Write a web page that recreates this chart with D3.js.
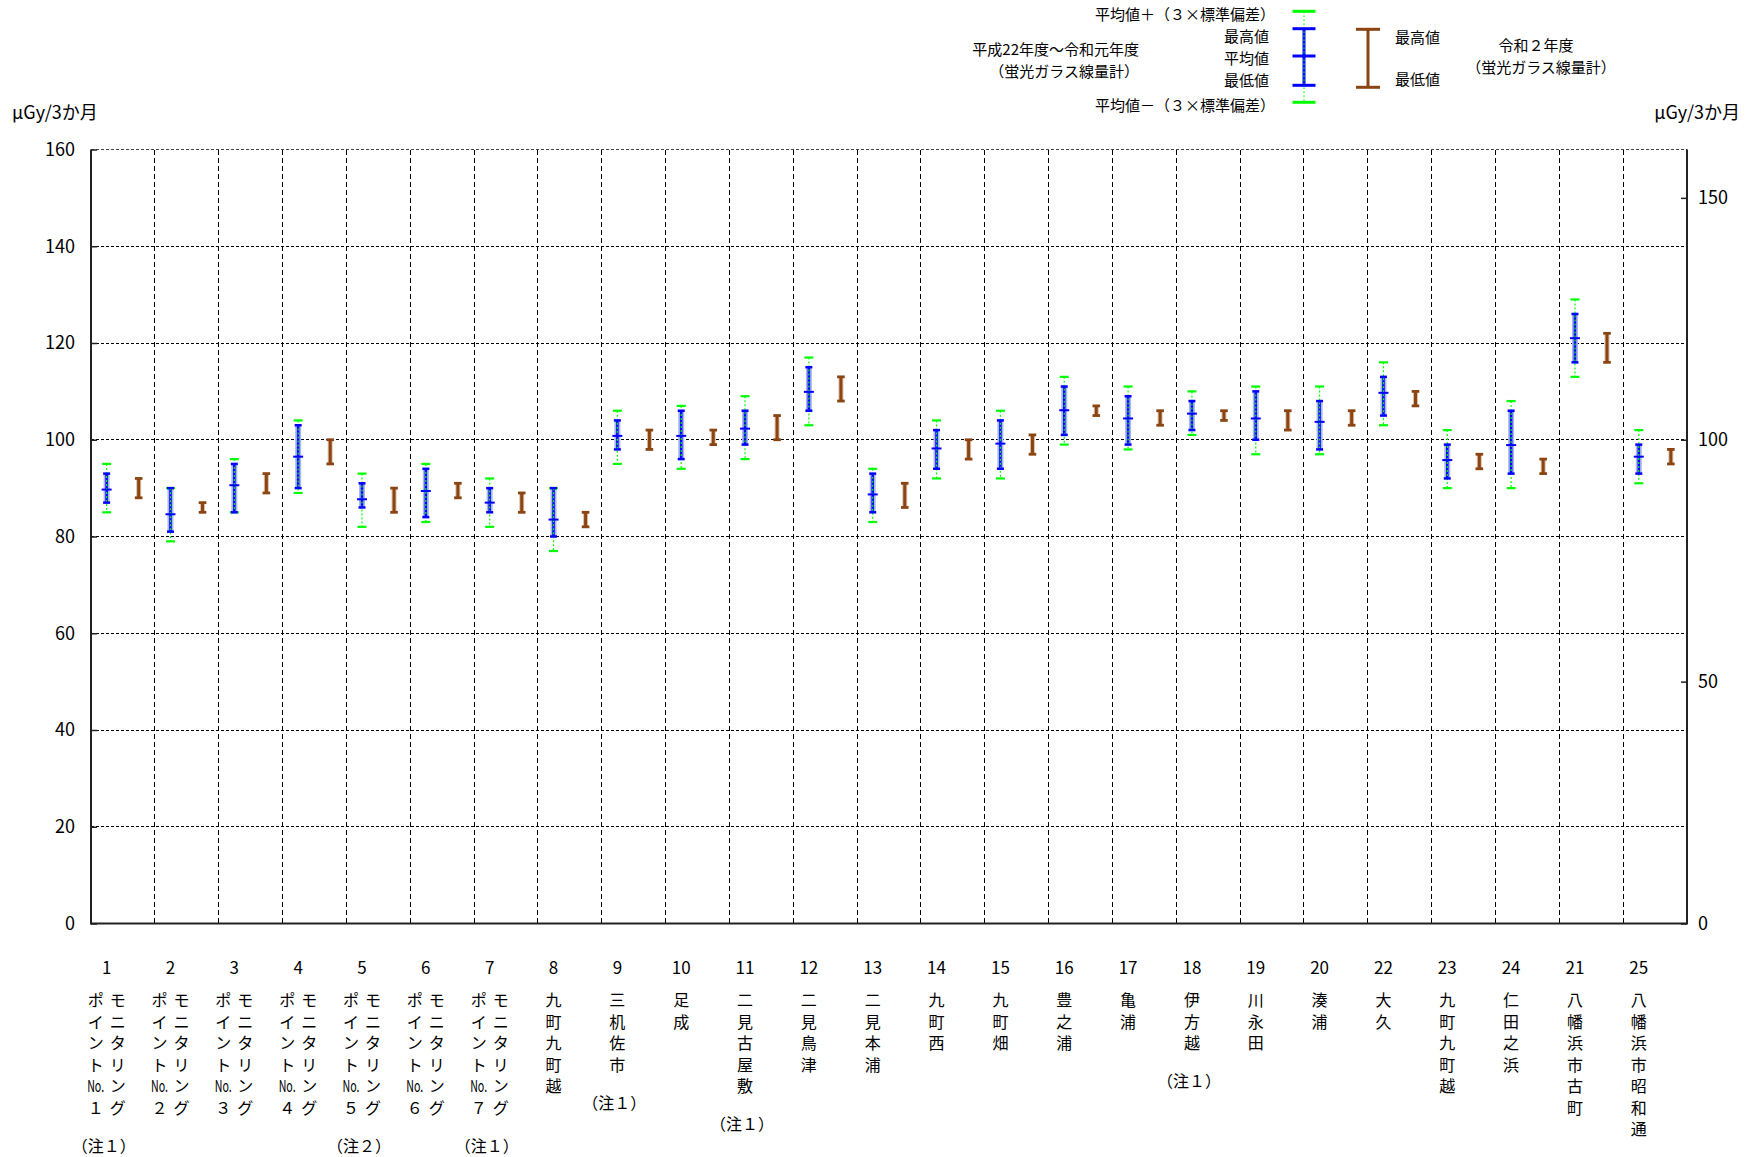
<!DOCTYPE html>
<html lang="ja">
<head>
<meta charset="utf-8">
<title>空間線量率（積算線量）</title>
<script src="https://cdn.jsdelivr.net/npm/d3@7"></script>
<style>
  html, body { margin: 0; padding: 0; background: #fff; }
  svg { display: block; font-family: "Noto Sans CJK JP", "Noto Sans", sans-serif; }
</style>
</head>
<body>
<svg id="chart" width="1751" height="1157"></svg>
<script>
// 地点番号（横軸の並び順）
const siteNumbers = ["1","2","3","4","5","6","7","8","9","10","11","12","13","14","15","16","17","18","19","20","22","23","24","21","25"];

// 地点名（縦書き。右の列から順に）
const siteNames = [
  ["モニタリング","ポイントNo.１"],
  ["モニタリング","ポイントNo.２"],
  ["モニタリング","ポイントNo.３"],
  ["モニタリング","ポイントNo.４"],
  ["モニタリング","ポイントNo.５"],
  ["モニタリング","ポイントNo.６"],
  ["モニタリング","ポイントNo.７"],
  ["九町九町越"],
  ["三机佐市"],
  ["足成"],
  ["二見古屋敷"],
  ["二見鳥津"],
  ["二見本浦"],
  ["九町西"],
  ["九町畑"],
  ["豊之浦"],
  ["亀浦"],
  ["伊方越"],
  ["川永田"],
  ["湊浦"],
  ["大久"],
  ["九町九町越"],
  ["仁田之浜"],
  ["八幡浜市古町"],
  ["八幡浜市昭和通"]
];

const siteNotes = ["（注１）","","","","（注２）","","（注１）","","（注１）","","（注１）","","","","","","","（注１）","","","","","","",""];

// 平成22年度～令和元年度（蛍光ガラス線量計） μGy/3か月
const pastUpper3sd = [95, 90, 96, 104, 93, 95, 92, 90, 106, 107, 109, 117, 94, 104, 106, 113, 111, 110, 111, 111, 116, 102, 108, 129, 102];
const pastMax      = [93, 90, 95, 103, 91, 94, 90, 90, 104, 106, 106, 115, 93, 102, 104, 111, 109, 108, 110, 108, 113, 99, 106, 126, 99];
const pastMean     = [89.7, 84.6, 90.6, 96.5, 87.7, 89.4, 87.0, 83.5, 100.8, 100.8, 102.3, 109.9, 88.7, 98.2, 99.2, 106.1, 104.4, 105.4, 104.4, 103.7, 109.7, 95.8, 98.9, 121.0, 96.5];
const pastMin      = [87, 81, 85, 90, 86, 84, 85, 80, 98, 96, 99, 106, 85, 94, 94, 101, 99, 102, 100, 98, 105, 92, 93, 116, 93];
const pastLower3sd = [85, 79, 85, 89, 82, 83, 82, 77, 95, 94, 96, 103, 83, 92, 92, 99, 98, 101, 97, 97, 103, 90, 90, 113, 91];

// 令和２年度（蛍光ガラス線量計） μGy/3か月
const currentMax = [92, 87, 93, 100, 90, 91, 89, 85, 102, 102, 105, 113, 91, 100, 101, 107, 106, 106, 106, 106, 110, 97, 96, 122, 98];
const currentMin = [88, 85, 89, 95, 85, 88, 85, 82, 98, 99, 100, 108, 86, 96, 97, 105, 103, 104, 102, 103, 107, 94, 93, 116, 95];

// 目盛
const leftTicks = [0, 20, 40, 60, 80, 100, 120, 140, 160];
const rightTicks = [0, 50, 100, 150];
const unitLabel = "μGy/3か月";

const COLORS = { blue: "#0000ff", blueHalo: "#aab4f2", green: "#00ff00", brown: "#8b4513", brownHalo: "#dcbfa8", grid: "#000", frame: "#222" };

const svg = d3.select("#chart");
const plot = { left: 91, right: 1687, top: 149.5, bottom: 923.5 };
const n = siteNumbers.length;
const idx = d3.range(n);

const x = d3.scaleBand().domain(idx).range([plot.left, plot.right]).padding(0);
const bw = x.bandwidth();
const pastX = i => x(i) + bw * 0.245;
const currentX = i => x(i) + bw * 0.747;

const y = d3.scaleLinear().domain([0, 160]).range([plot.bottom, plot.top]);

// 横のグリッド線
const grid = svg.append("g");
grid.selectAll("line.h")
  .data(leftTicks.filter(t => t > 0))
  .join("line")
  .attr("x1", plot.left).attr("x2", plot.right)
  .attr("y1", d => y(d)).attr("y2", d => y(d))
  .attr("stroke", d => d === 160 ? "#444" : COLORS.grid)
  .attr("stroke-width", 1)
  .attr("stroke-dasharray", "3,2")
  .attr("shape-rendering", "crispEdges");

// 地点の区切り線
grid.selectAll("line.v")
  .data(idx.slice(1))
  .join("line")
  .attr("x1", d => x(d)).attr("x2", d => x(d))
  .attr("y1", plot.top).attr("y2", plot.bottom)
  .attr("stroke", COLORS.grid)
  .attr("stroke-width", 1)
  .attr("stroke-dasharray", "5,3")
  .attr("shape-rendering", "crispEdges");

// 枠線（上辺はグリッド線）
const frame = svg.append("g").attr("stroke", COLORS.frame).attr("stroke-width", 2).attr("fill", "none");
frame.append("path").attr("d", `M${plot.left},${plot.top}V${plot.bottom}H${plot.right}V${plot.top}`);

// 軸
const yLeft = svg.append("g")
  .attr("transform", `translate(${plot.left},0)`)
  .call(d3.axisLeft(y).tickValues(leftTicks).tickSize(-6).tickPadding(16).tickFormat(d3.format("d")));
const yRight = svg.append("g")
  .attr("transform", `translate(${plot.right},0)`)
  .call(d3.axisRight(y).tickValues(rightTicks).tickSize(-6).tickPadding(11).tickFormat(d3.format("d")));
[yLeft, yRight].forEach(g => {
  g.select(".domain").remove();
  g.selectAll(".tick line").attr("stroke", COLORS.frame).attr("stroke-width", 1.5);
  g.selectAll(".tick text").attr("font-size", 18).attr("fill", "#000")
    .attr("font-family", '"Noto Sans CJK JP", sans-serif');
});

// 単位
svg.append("text").attr("x", 12).attr("y", 111).attr("font-size", 18)
  .attr("dominant-baseline", "central").text(unitLabel);
svg.append("text").attr("x", 1740).attr("y", 111).attr("font-size", 18)
  .attr("text-anchor", "end").attr("dominant-baseline", "central").text(unitLabel);

// 過去の範囲（平均値±3σ、最高・最低、平均）
const past = svg.append("g").selectAll("g").data(idx).join("g");
past.append("line").attr("class", "halo")
  .attr("x1", pastX).attr("x2", pastX)
  .attr("y1", i => y(pastMax[i])).attr("y2", i => y(pastMin[i]))
  .attr("stroke", COLORS.blueHalo).attr("stroke-width", 6);
past.append("line")
  .attr("x1", pastX).attr("x2", pastX)
  .attr("y1", i => y(pastMax[i])).attr("y2", i => y(pastMin[i]))
  .attr("stroke", COLORS.blue).attr("stroke-width", 2.5);
past.append("line")
  .attr("x1", pastX).attr("x2", pastX)
  .attr("y1", i => y(pastUpper3sd[i])).attr("y2", i => y(pastLower3sd[i]))
  .attr("stroke", COLORS.green).attr("stroke-width", 1.2).attr("stroke-dasharray", "2,2");
[[pastUpper3sd, COLORS.green, 4.5, 2.2], [pastLower3sd, COLORS.green, 4.5, 2.2],
 [pastMax, COLORS.blue, 3.5, 2.5], [pastMin, COLORS.blue, 3.5, 2.5], [pastMean, COLORS.blue, 5, 2]]
  .forEach(([arr, color, half, w]) => {
    past.append("line")
      .attr("x1", i => pastX(i) - half).attr("x2", i => pastX(i) + half)
      .attr("y1", i => y(arr[i])).attr("y2", i => y(arr[i]))
      .attr("stroke", color).attr("stroke-width", w);
  });

// 令和２年度の範囲（最高・最低）
const cur = svg.append("g").selectAll("g").data(idx).join("g");
cur.append("line")
  .attr("x1", currentX).attr("x2", currentX)
  .attr("y1", i => y(currentMax[i])).attr("y2", i => y(currentMin[i]))
  .attr("stroke", COLORS.brownHalo).attr("stroke-width", 5);
cur.append("line")
  .attr("x1", currentX).attr("x2", currentX)
  .attr("y1", i => y(currentMax[i])).attr("y2", i => y(currentMin[i]))
  .attr("stroke", COLORS.brown).attr("stroke-width", 3);
[currentMax, currentMin].forEach(arr => {
  cur.append("line")
    .attr("x1", i => currentX(i) - 3.8).attr("x2", i => currentX(i) + 3.8)
    .attr("y1", i => y(arr[i])).attr("y2", i => y(arr[i]))
    .attr("stroke", COLORS.brown).attr("stroke-width", 2.8);
});

// 地点番号と地点名
const ROW0 = 999, ROW_H = 21.5, COL_W = 22;
const labels = svg.append("g").attr("fill", "#000");
idx.forEach(i => {
  const cx = pastX(i);
  labels.append("text").attr("x", cx).attr("y", 966).attr("font-size", 17)
    .attr("text-anchor", "middle").attr("dominant-baseline", "central").text(siteNumbers[i]);
  const cols = siteNames[i];
  let maxRows = 0;
  cols.forEach((col, c) => {
    const colX = cx + ((cols.length - 1) / 2 - c) * COL_W;
    const tokens = col.match(/No\.|./gu);
    maxRows = Math.max(maxRows, tokens.length);
    tokens.forEach((t, r) => {
      const tx = labels.append("text").attr("x", colX).attr("y", ROW0 + r * ROW_H)
        .attr("font-size", 16).attr("text-anchor", "middle").attr("dominant-baseline", "central").text(t);
      if (t === "No.") tx.attr("textLength", 17).attr("lengthAdjust", "spacingAndGlyphs").attr("x", colX - 8.5).attr("text-anchor", "start");
    });
  });
  if (siteNotes[i]) {
    labels.append("text").attr("x", cx - 3).attr("y", ROW0 + (maxRows - 1) * ROW_H + 38)
      .attr("font-size", 16).attr("text-anchor", "middle").attr("dominant-baseline", "central").text(siteNotes[i]);
  }
});

// 凡例
const lg = svg.append("g").attr("font-size", 15).attr("fill", "#000");
const lx = 1304;
lg.append("line").attr("x1", lx).attr("x2", lx).attr("y1", 28.7).attr("y2", 85.3).attr("stroke", COLORS.blue).attr("stroke-width", 3);
lg.append("line").attr("x1", lx).attr("x2", lx).attr("y1", 11.3).attr("y2", 102.3).attr("stroke", COLORS.green).attr("stroke-width", 1).attr("stroke-dasharray", "2,2");
[[11.3, COLORS.green], [28.7, COLORS.blue], [56, COLORS.blue], [85.3, COLORS.blue], [102.3, COLORS.green]].forEach(([yy, c]) => {
  lg.append("line").attr("x1", lx - 11.5).attr("x2", lx + 11.5).attr("y1", yy).attr("y2", yy).attr("stroke", c).attr("stroke-width", 3);
});
const bx = 1368;
lg.append("line").attr("x1", bx).attr("x2", bx).attr("y1", 29.3).attr("y2", 87.3).attr("stroke", COLORS.brown).attr("stroke-width", 3);
[29.3, 87.3].forEach(yy => {
  lg.append("line").attr("x1", bx - 12).attr("x2", bx + 12).attr("y1", yy).attr("y2", yy).attr("stroke", COLORS.brown).attr("stroke-width", 3);
});
const ltext = (tx, ty, s, anchor) => lg.append("text").attr("x", tx).attr("y", ty)
  .attr("text-anchor", anchor).attr("dominant-baseline", "central").text(s);
ltext(1275, 13, "平均値＋（３×標準偏差）", "end");
ltext(1269, 35, "最高値", "end");
ltext(1269, 57, "平均値", "end");
ltext(1269, 79, "最低値", "end");
ltext(1275, 104, "平均値－（３×標準偏差）", "end");
ltext(1139, 48, "平成22年度～令和元年度", "end");
ltext(1139, 70, "（蛍光ガラス線量計）", "end");
ltext(1395, 36, "最高値", "start");
ltext(1395, 78, "最低値", "start");
ltext(1536, 44, "令和２年度", "middle");
ltext(1541, 66, "（蛍光ガラス線量計）", "middle");
</script>
</body>
</html>
